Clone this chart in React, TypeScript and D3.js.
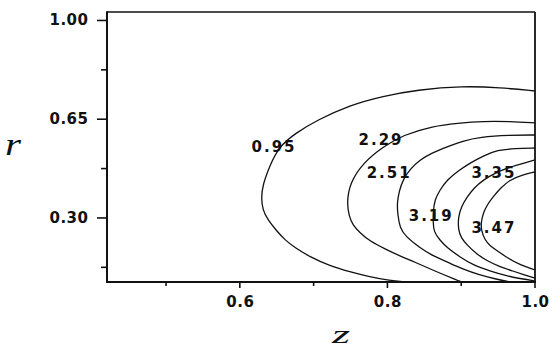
import React from 'react';
import * as d3 from 'd3';

// axis domains (z horizontal, r vertical)
const zDomain: [number, number] = [0.42, 1.0];
const rDomain: [number, number] = [0.073, 1.03];
const zMajorTicks = [0.6, 0.8, 1.0];
const zMinorTicks = [0.5, 0.7, 0.9];
const rMajorTicks = [1.0, 0.65, 0.3];
const rMinorTicks = [0.825, 0.475, 0.125];

// contour levels
const levels = ['0.95', '2.29', '2.51', '3.19', '3.35', '3.47'];

// contour lines, as (z, r)
const c095: [number, number][] = [
  [1.0, 0.75], [0.953, 0.762], [0.902, 0.768], [0.84, 0.754], [0.794, 0.732], [0.749, 0.7],
  [0.705, 0.647], [0.675, 0.6], [0.653, 0.552], [0.641, 0.488], [0.631, 0.417],
  [0.629, 0.371], [0.631, 0.328], [0.638, 0.293], [0.649, 0.257], [0.661, 0.222], [0.675, 0.194],
  [0.695, 0.162], [0.722, 0.13], [0.749, 0.109], [0.776, 0.091], [0.803, 0.078], [0.824, 0.073],
];
const c229: [number, number][] = [
  [1.0, 0.637], [0.966, 0.642], [0.93, 0.643], [0.895, 0.636], [0.862, 0.626], [0.821, 0.594],
  [0.794, 0.552], [0.767, 0.495], [0.749, 0.424], [0.745, 0.353], [0.748, 0.307], [0.753, 0.275],
  [0.763, 0.247], [0.776, 0.218], [0.797, 0.19], [0.817, 0.165], [0.837, 0.144], [0.864, 0.112],
  [0.894, 0.08], [0.901, 0.073],
];
const c251: [number, number][] = [
  [1.0, 0.594], [0.966, 0.594], [0.925, 0.587], [0.902, 0.573], [0.881, 0.552], [0.86, 0.53],
  [0.844, 0.506], [0.831, 0.474], [0.821, 0.435], [0.816, 0.396], [0.813, 0.353], [0.814, 0.311],
  [0.817, 0.265], [0.824, 0.236], [0.844, 0.194], [0.862, 0.165], [0.881, 0.144], [0.902, 0.119],
  [0.925, 0.098], [0.946, 0.084], [0.966, 0.073],
];
const c319: [number, number][] = [
  [1.0, 0.548], [0.973, 0.546], [0.949, 0.541], [0.93, 0.52], [0.912, 0.495], [0.896, 0.467],
  [0.881, 0.435], [0.871, 0.399], [0.864, 0.364], [0.862, 0.321], [0.862, 0.282], [0.863, 0.25],
  [0.871, 0.222], [0.881, 0.194], [0.898, 0.162], [0.916, 0.133], [0.939, 0.112], [0.962, 0.094],
  [0.982, 0.084], [1.0, 0.077],
];
const c335: [number, number][] = [
  [1.0, 0.506], [0.966, 0.481], [0.946, 0.459], [0.93, 0.435], [0.917, 0.406], [0.908, 0.374],
  [0.9, 0.339], [0.896, 0.304], [0.896, 0.257], [0.9, 0.229], [0.908, 0.204], [0.921, 0.172],
  [0.935, 0.148], [0.953, 0.126], [0.97, 0.112], [0.986, 0.098], [1.0, 0.087],
];
const c347: [number, number][] = [
  [1.0, 0.463], [0.982, 0.452], [0.966, 0.435], [0.953, 0.406], [0.943, 0.374], [0.935, 0.346],
  [0.93, 0.318], [0.927, 0.286], [0.927, 0.257], [0.932, 0.222], [0.939, 0.201], [0.949, 0.183],
  [0.963, 0.158], [0.98, 0.133], [1.0, 0.116],
];
const contourLines = [c095, c229, c251, c319, c335, c347];

// label anchor points (z, r) for each level
const labelZ = [0.645, 0.79, 0.801, 0.858, 0.943, 0.943];
const labelR = [0.552, 0.576, 0.459, 0.307, 0.459, 0.265];

const W = 554;
const H = 356;
const L = 107, R = 535, T = 12, B = 282;

export default function App() {
  const x = d3.scaleLinear().domain(zDomain).range([L, R]);
  const y = d3.scaleLinear().domain(rDomain).range([B, T]);
  const line = d3
    .line<[number, number]>()
    .x((d) => x(d[0]))
    .y((d) => y(d[1]))
    .curve(d3.curveBasis);

  const baseFont = {
    fontFamily: '"DejaVu Sans", Verdana, sans-serif',
    fontWeight: 700,
    fontSize: '15px',
  } as const;
  const contourFont = { ...baseFont, letterSpacing: '2px' };
  const tickFont = { ...baseFont, letterSpacing: '0.5px' };

  return (
    <svg
      width={W}
      height={H}
      style={{ position: 'absolute', left: 0, top: 0, background: '#fff' }}
    >
      <rect x={0} y={0} width={W} height={H} fill="#fff" />
      <defs>
        <clipPath id="plot">
          <rect x={L} y={T} width={R - L} height={B - T} />
        </clipPath>
      </defs>
      <g clipPath="url(#plot)">
        {contourLines.map((c, i) => (
          <path key={i} d={line(c) || ''} fill="none" stroke="#111" strokeWidth={1.3} />
        ))}
      </g>
      {levels.map((lv, i) => (
        <text
          key={lv}
          x={x(labelZ[i]) + 1}
          y={y(labelR[i])}
          textAnchor="middle"
          dominantBaseline="central"
          style={contourFont}
          fill="#111"
        >
          {lv}
        </text>
      ))}
      {/* frame */}
      <line x1={L} x2={R} y1={T} y2={T} stroke="#111" strokeWidth={1.5} />
      <line x1={R} x2={R} y1={T} y2={B} stroke="#111" strokeWidth={1.8} />
      <line x1={L} x2={L} y1={T - 0.75} y2={B + 1} stroke="#111" strokeWidth={2} />
      <line x1={L - 1} x2={R + 1} y1={B} y2={B} stroke="#111" strokeWidth={2} />
      {/* y ticks */}
      {rMajorTicks.map((t) => (
        <g key={'ym' + t}>
          <line x1={L - 10} x2={L} y1={y(t)} y2={y(t)} stroke="#111" strokeWidth={1.6} />
          <text
            x={L - 19 + 0.5}
            y={y(t)}
            textAnchor="end"
            dominantBaseline="central"
            style={tickFont}
            fill="#111"
          >
            {t.toFixed(2)}
          </text>
        </g>
      ))}
      {rMinorTicks.map((t) => (
        <line key={'yn' + t} x1={L - 6} x2={L} y1={y(t)} y2={y(t)} stroke="#111" strokeWidth={1.6} />
      ))}
      {/* x ticks */}
      {zMajorTicks.map((t) => (
        <g key={'xm' + t}>
          <line x1={x(t)} x2={x(t)} y1={B} y2={B + 6} stroke="#111" strokeWidth={1.6} />
          <text
            x={x(t) + 0.5}
            y={307}
            textAnchor="middle"
            style={tickFont}
            fill="#111"
          >
            {t.toFixed(1)}
          </text>
        </g>
      ))}
      {zMinorTicks.map((t) => (
        <line key={'xn' + t} x1={x(t)} x2={x(t)} y1={B} y2={B + 4} stroke="#111" strokeWidth={1.6} />
      ))}
      {/* axis titles */}
      <text
        x={5}
        y={155}
        textLength={16}
        lengthAdjust="spacingAndGlyphs"
        style={{ fontFamily: '"Liberation Serif", "Times New Roman", serif', fontStyle: 'italic', fontSize: '32px' }}
        fill="#111"
      >
        r
      </text>
      <text
        x={332}
        y={343}
        textLength={18}
        lengthAdjust="spacingAndGlyphs"
        style={{ fontFamily: '"Liberation Serif", "Times New Roman", serif', fontStyle: 'italic', fontSize: '25px' }}
        fill="#111"
      >
        z
      </text>
    </svg>
  );
}
